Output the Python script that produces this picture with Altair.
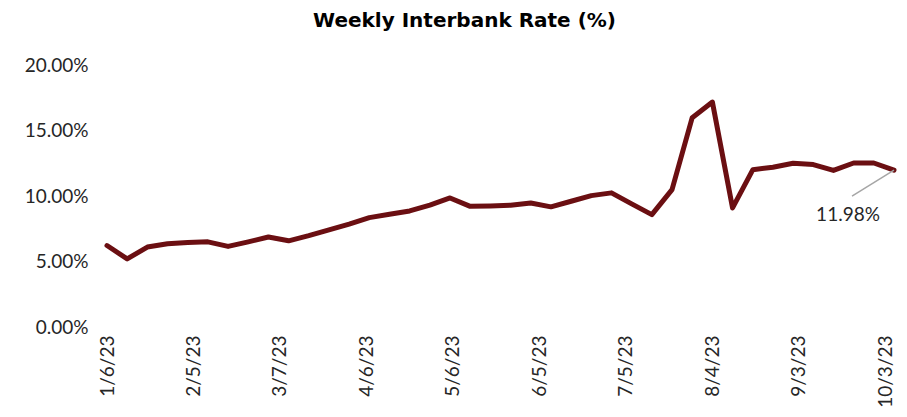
import altair as alt
import pandas as pd

dates = [
    "2023-01-06", "2023-01-13", "2023-01-20", "2023-01-27", "2023-02-03",
    "2023-02-10", "2023-02-17", "2023-02-24", "2023-03-03", "2023-03-10",
    "2023-03-17", "2023-03-24", "2023-03-31", "2023-04-07", "2023-04-14",
    "2023-04-21", "2023-04-28", "2023-05-05", "2023-05-12", "2023-05-19",
    "2023-05-26", "2023-06-02", "2023-06-09", "2023-06-16", "2023-06-23",
    "2023-06-30", "2023-07-07", "2023-07-14", "2023-07-21", "2023-07-28",
    "2023-08-04", "2023-08-11", "2023-08-18", "2023-08-25", "2023-09-01",
    "2023-09-08", "2023-09-15", "2023-09-22", "2023-09-29", "2023-10-06",
]
rates = [
    6.22, 5.20, 6.10, 6.35, 6.45, 6.50, 6.15, 6.50, 6.87, 6.58,
    6.97, 7.41, 7.86, 8.35, 8.60, 8.86, 9.30, 9.85, 9.21, 9.24,
    9.30, 9.47, 9.17, 9.60, 10.03, 10.24, 9.40, 8.58, 10.49, 15.98,
    17.17, 9.09, 12.00, 12.20, 12.50, 12.40, 11.95, 12.52, 12.52, 11.98,
]
tick_dates = [(1, 6), (2, 5), (3, 7), (4, 6), (5, 6), (6, 5), (7, 5), (8, 4), (9, 3), (10, 3)]
y_ticks = [0, 5, 10, 15, 20]
last_label = "11.98%"
title_text = "Weekly Interbank Rate (%)"

FONT = "Lato"
LINE_COLOR = "#6B0F12"
TEXT_COLOR = "#262626"

df = pd.DataFrame({"date": dates, "rate": rates})
ann = pd.DataFrame({"date": [dates[-1]], "rate": [rates[-1]], "label": [last_label]})

x_scale = alt.Scale(
    type="utc",
    domain=[alt.DateTime(year=2023, month=1, date=6, utc=True),
            alt.DateTime(year=2023, month=10, date=6, utc=True)],
)
x_axis = alt.Axis(
    values=[alt.DateTime(year=2023, month=m, date=d, utc=True) for m, d in tick_dates],
    labelExpr="utcFormat(datum.value, '%-m/%-d/%y')",
    labelAngle=270,
    labelFont=FONT,
    labelFontSize=19,
    labelColor=TEXT_COLOR,
    labelPadding=8,
    grid=False,
    domain=False,
    ticks=False,
    title=None,
)
y_scale = alt.Scale(domain=[0, 20], nice=False)
y_axis = alt.Axis(
    values=y_ticks,
    labelExpr="format(datum.value, '.2f') + '%'",
    labelFont=FONT,
    labelFontSize=19,
    labelColor=TEXT_COLOR,
    labelPadding=19,
    grid=False,
    domain=False,
    ticks=False,
    title=None,
)

line = alt.Chart(df).mark_line(
    color=LINE_COLOR, strokeWidth=5, strokeJoin="round", strokeCap="round"
).encode(
    x=alt.X("date:T", scale=x_scale, axis=x_axis),
    y=alt.Y("rate:Q", scale=y_scale, axis=y_axis),
)

leader = alt.Chart(ann).mark_rule(
    color="#A6A6A6", strokeWidth=1.5, x2Offset=-42, y2Offset=26
).encode(
    x="date:T", y="rate:Q", x2="date:T", y2="rate:Q"
)

label = alt.Chart(ann).mark_text(
    dx=-46, dy=45, font=FONT, fontSize=19, color=TEXT_COLOR,
    align="center", baseline="middle"
).encode(
    x="date:T", y="rate:Q", text="label:N"
)

chart = alt.layer(line, leader, label).properties(
    width=787,
    height=262,
    autosize=alt.AutoSizeParams(type="none"),
    padding={"left": 99, "top": 57, "right": 5, "bottom": 82},
    title=alt.TitleParams(
        title_text, font="DejaVu Sans", fontSize=20, fontWeight="bold",
        color="#000000", anchor="middle", offset=25, dx=-36
    ),
).configure_view(stroke=None)

chart.save("out.html", embed_options={"renderer": "svg", "actions": False})
